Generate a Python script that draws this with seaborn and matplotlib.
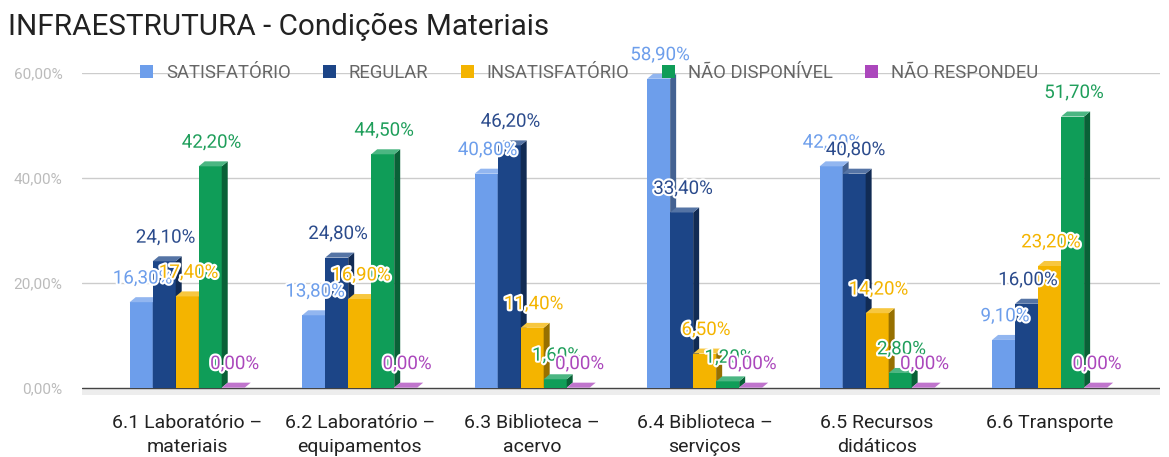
import matplotlib
matplotlib.use('Agg')
import matplotlib.pyplot as plt
import matplotlib.patheffects as pe
from matplotlib.patches import Polygon, Patch
from matplotlib.colors import to_rgb
import seaborn as sns
import pandas as pd
import numpy as np

# dados
categorias = ['6.1 Laboratório –\nmateriais', '6.2 Laboratório –\nequipamentos',
              '6.3 Biblioteca –\nacervo', '6.4 Biblioteca –\nserviços',
              '6.5 Recursos\ndidáticos', '6.6 Transporte']
series = ['SATISFATÓRIO', 'REGULAR', 'INSATISFATÓRIO', 'NÃO DISPONÍVEL', 'NÃO RESPONDEU']
satisfatorio = [16.3, 13.8, 40.8, 58.9, 42.2, 9.1]
regular = [24.1, 24.8, 46.2, 33.4, 40.8, 16.0]
insatisfatorio = [17.4, 16.9, 11.4, 6.5, 14.2, 23.2]
nao_disponivel = [42.2, 44.5, 1.6, 1.2, 2.8, 51.7]
nao_respondeu = [0.0, 0.0, 0.0, 0.0, 0.0, 0.0]
yticks = [0, 20, 40, 60]
ytick_labels = ['0,00%', '20,00%', '40,00%', '60,00%']

cores = ['#6d9eeb', '#1c4587', '#f4b400', '#0f9d58', '#ab47bc']
cores_rotulo = ['#6d9eeb', '#2b4b8c', '#f4b400', '#1e9e5a', '#ab47bc']

df = pd.DataFrame({'categoria': categorias, 'SATISFATÓRIO': satisfatorio,
                   'REGULAR': regular, 'INSATISFATÓRIO': insatisfatorio,
                   'NÃO DISPONÍVEL': nao_disponivel, 'NÃO RESPONDEU': nao_respondeu})
df = df.melt(id_vars='categoria', var_name='serie', value_name='valor')

sns.set_theme(style='white')
plt.rcParams['font.family'] = ['Roboto', 'DejaVu Sans']

W, H = 1169, 457
fig = plt.figure(figsize=(W / 100, H / 100), dpi=100)
ax = fig.add_axes([82 / W, 62 / H, 1078 / W, 322 / H])

sns.barplot(data=df, x='categoria', y='valor', hue='serie', hue_order=series,
            palette=cores, width=0.667, saturation=1, linewidth=0,
            legend=False, ax=ax)

ax.set_xlim(-0.61, 5.64)
ax.set_ylim(-1.4, 60)

# efeito 3D: face lateral e topo a partir das barras
px_x = 1078 / (5.64 + 0.61)
px_y = 322 / 61.4
dx = 6 / px_x
dy = 5 / px_y
n = len(categorias)
for i, p in enumerate(list(ax.patches)):
    s = i // n
    x0, w, h = p.get_x(), p.get_width(), p.get_height()
    c = np.array(to_rgb(cores[s]))
    escuro = c * 0.62
    claro = c + (1 - c) * 0.25
    p.set_zorder(3 + s)
    lado = Polygon([(x0 + w, 0), (x0 + w + dx, dy), (x0 + w + dx, h + dy), (x0 + w, h)],
                   closed=True, facecolor=escuro, edgecolor='none', zorder=3 + s)
    topo = Polygon([(x0, h), (x0 + dx, h + dy), (x0 + w + dx, h + dy), (x0 + w, h)],
                   closed=True, facecolor=claro, edgecolor='none', zorder=3 + s)
    ax.add_patch(lado)
    ax.add_patch(topo)
    rot = f'{h:.2f}'.replace('.', ',') + '%'
    ax.annotate(rot, (x0 + w / 2, h), xytext=(1, 17), textcoords='offset points',
                ha='center', va='center', fontsize=13.5, color=cores_rotulo[s], zorder=20,
                path_effects=[pe.withStroke(linewidth=3, foreground='white')])

# chao e linhas de grade
ax.axhspan(-1.4, 0, color='#ededed', zorder=1, lw=0)
ax.axhline(0, color='#444444', lw=1, zorder=2)
ax.set_yticks(yticks)
ax.set_yticklabels(ytick_labels)
for v in yticks[1:]:
    ax.axhline(v, color='#cccccc', lw=1, zorder=0)
sns.despine(ax=ax, left=True, bottom=True)
ax.grid(False)
ax.tick_params(axis='y', colors='#bbbbbb', labelsize=11, length=0, pad=14)
ax.tick_params(axis='x', colors='#222222', labelsize=14, length=0, pad=14)
for t in ax.get_xticklabels():
    t.set_linespacing(1.4)
ax.set_xlabel('')
ax.set_ylabel('')

handles = [Patch(facecolor=c, edgecolor='none', label=s) for c, s in zip(cores, series)]
leg = ax.legend(handles=handles, loc='center', ncol=5, frameon=False,
                bbox_to_anchor=(589 / W, (H - 73) / H), bbox_transform=fig.transFigure,
                fontsize=13.3, labelcolor='#666666', handlelength=0.7, handleheight=0.7,
                handletextpad=0.7, columnspacing=1.75, borderaxespad=0)
leg.set_zorder(15)

fig.text(8 / W, 1 - 27 / H, 'INFRAESTRUTURA - Condições Materiais',
         fontsize=21.3, color='#222222', va='center', ha='left')

fig.savefig('out.png', dpi=100)
